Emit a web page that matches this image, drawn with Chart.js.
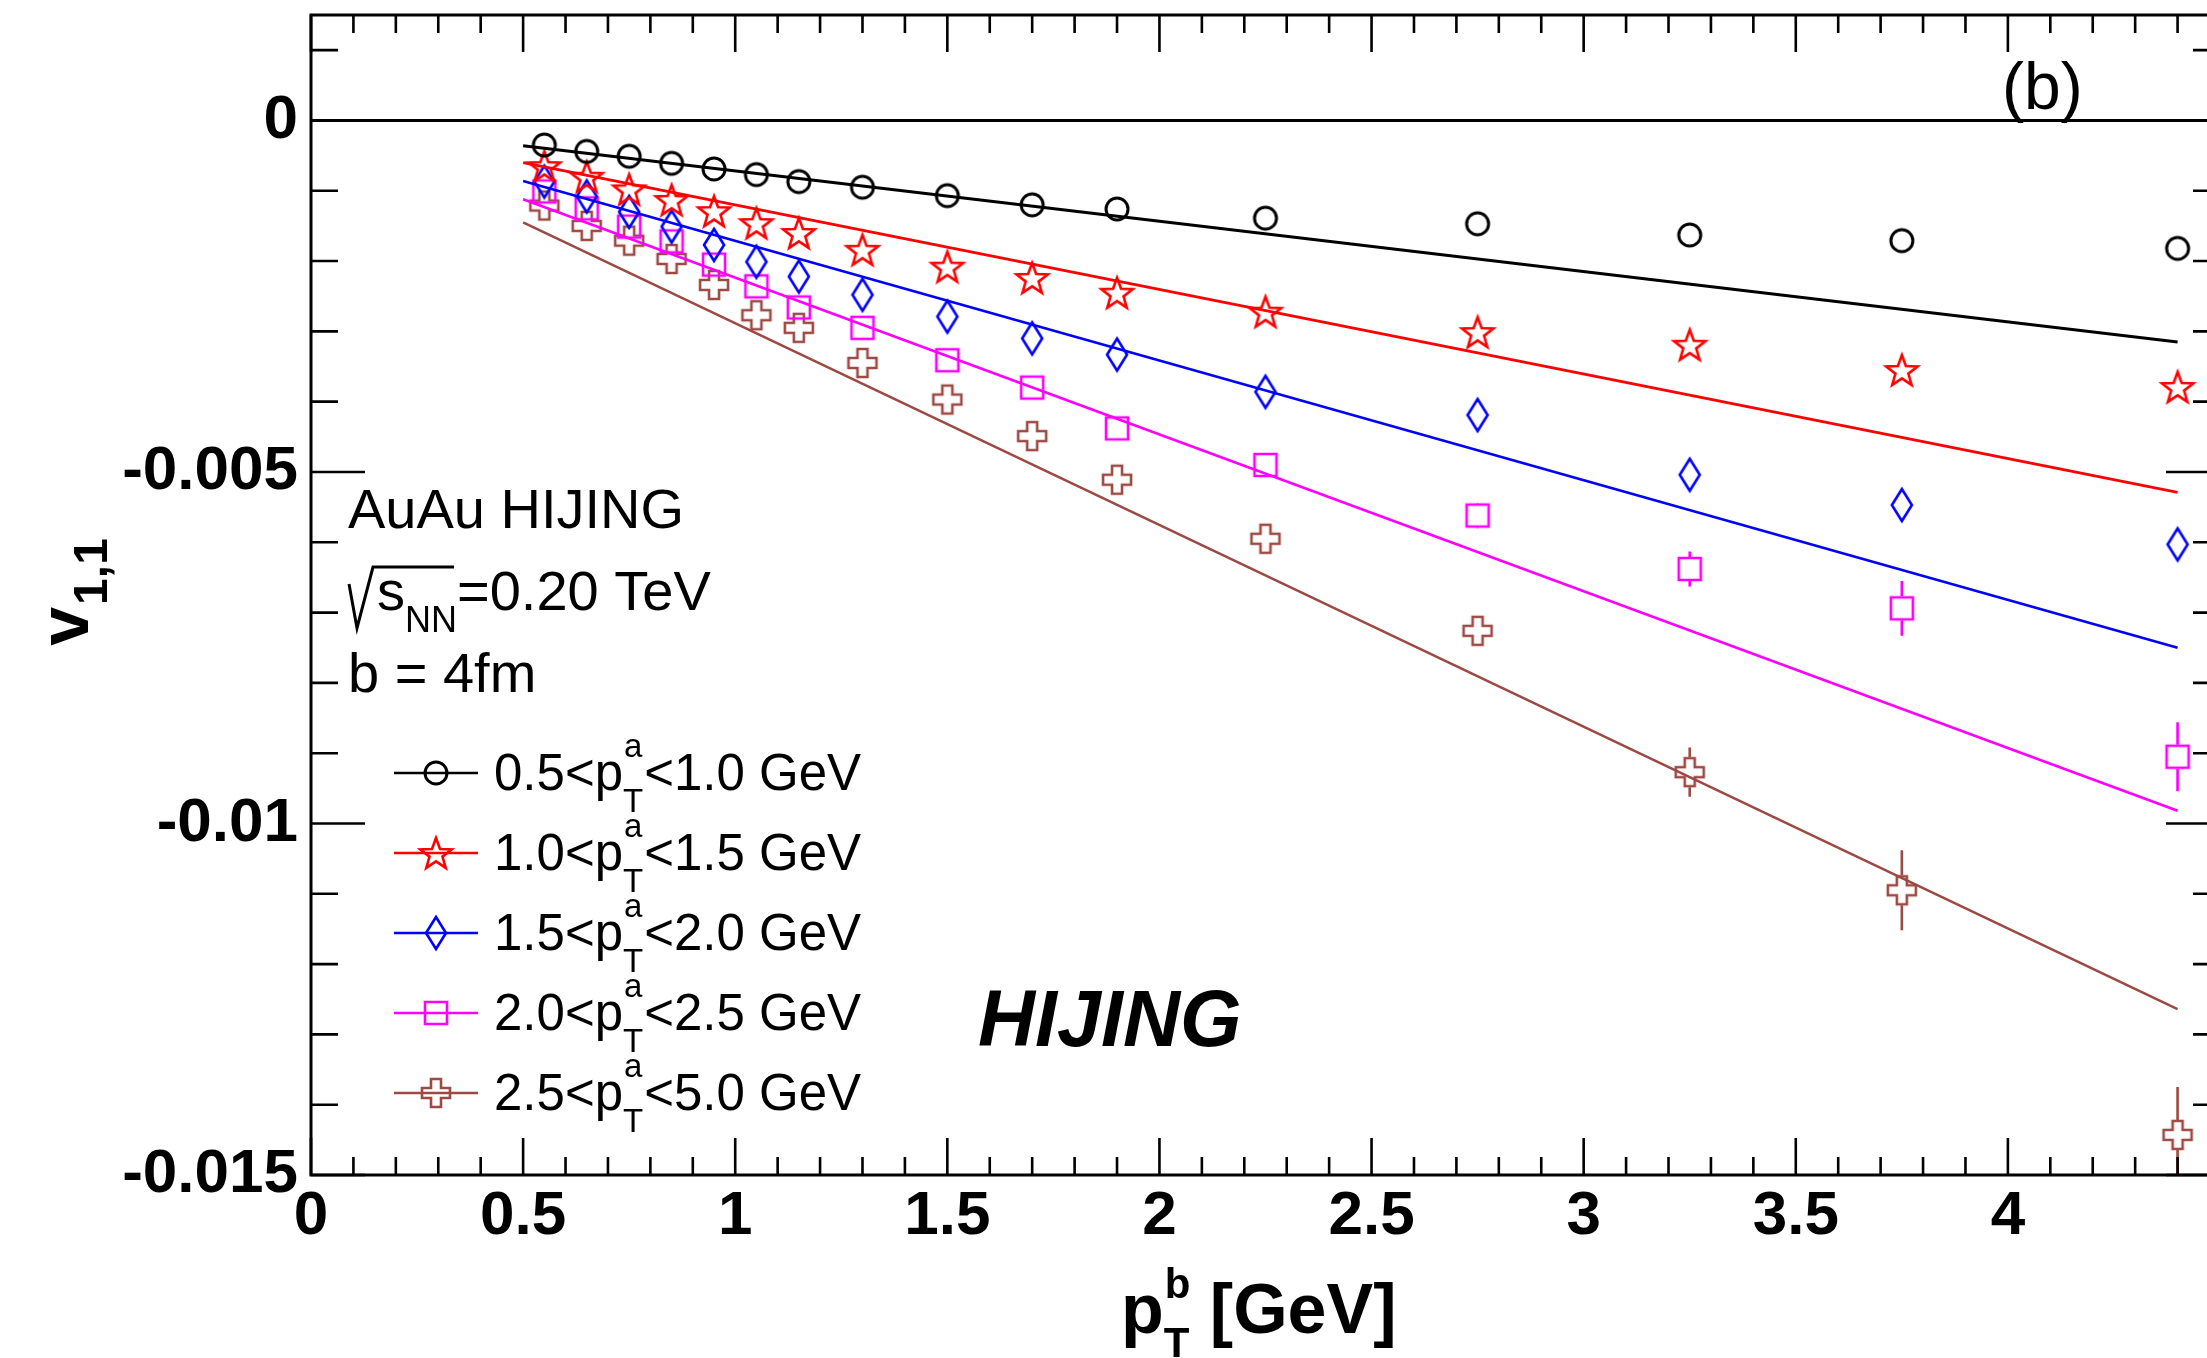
<!DOCTYPE html>
<html>
<head>
<meta charset="utf-8">
<title>v1,1 vs pT (HIJING)</title>
<script src="https://cdn.jsdelivr.net/npm/chart.js@4.4.1/dist/chart.umd.min.js"></script>
<style>
  html, body { margin: 0; padding: 0; background: #fff; overflow: hidden; }
  canvas { display: block; }
</style>
</head>
<body>
<canvas id="v11Chart" width="2240" height="1358"></canvas>
<script>
// pT^b bin centres [GeV]
const ptB = [0.55, 0.65, 0.75, 0.85, 0.95, 1.05, 1.15, 1.3, 1.5, 1.7, 1.9, 2.25, 2.75, 3.25, 3.75, 4.4];

// v1,1 for each pT^a selection
const v11_05_10 = [-0.00035, -0.00044, -0.00051, -0.00061, -0.00069, -0.00077, -0.00087, -0.00095, -0.00107, -0.0012, -0.00126, -0.00139, -0.00147, -0.00163, -0.00171, -0.00182];
const v11_10_15 = [-0.00065, -0.0008, -0.00098, -0.00113, -0.00129, -0.00146, -0.0016, -0.00184, -0.00208, -0.00224, -0.00245, -0.00272, -0.00301, -0.00319, -0.00355, -0.00379];
const v11_15_20 = [-0.00087, -0.00108, -0.0013, -0.00151, -0.00177, -0.00201, -0.00222, -0.00248, -0.00279, -0.0031, -0.00333, -0.00386, -0.00419, -0.00504, -0.00547, -0.00603];
const v11_20_25 = [-0.00101, -0.00125, -0.00151, -0.00172, -0.00205, -0.00236, -0.00266, -0.00295, -0.00341, -0.0038, -0.00438, -0.0049, -0.00562, -0.00638, -0.00694, -0.00905];
const v11_25_50 = [-0.00121, -0.0015, -0.00171, -0.00197, -0.00234, -0.00277, -0.00295, -0.00345, -0.00397, -0.00449, -0.00511, -0.00595, -0.00726, -0.00927, -0.01095, -0.01443];

// statistical errors
const err_05_10 = [0.00002, 0.00002, 0.00002, 0.00002, 0.00002, 0.00002, 0.00002, 0.00003, 0.00003, 0.00003, 0.00004, 0.00004, 0.00005, 0.00006, 0.00008, 0.0001];
const err_10_15 = [0.00003, 0.00003, 0.00003, 0.00003, 0.00003, 0.00004, 0.00004, 0.00004, 0.00005, 0.00005, 0.00006, 0.00007, 0.00008, 0.0001, 0.00013, 0.00016];
const err_15_20 = [0.00004, 0.00004, 0.00004, 0.00004, 0.00005, 0.00005, 0.00005, 0.00006, 0.00006, 0.00007, 0.00008, 0.0001, 0.00012, 0.00015, 0.0002, 0.00024];
const err_20_25 = [0.00005, 0.00005, 0.00005, 0.00006, 0.00006, 0.00007, 0.00007, 0.00008, 0.00009, 0.0001, 0.00012, 0.00014, 0.00018, 0.00025, 0.00039, 0.00049];
const err_25_50 = [0.00006, 0.00006, 0.00007, 0.00007, 0.00008, 0.00009, 0.0001, 0.00011, 0.00012, 0.00014, 0.00016, 0.00019, 0.0002, 0.00035, 0.00057, 0.00068];

// linear fits, value at both ends of the fit range
const fitRange = [0.5, 4.4];
const fit_05_10 = [-0.00036, -0.00315];
const fit_10_15 = [-0.0006, -0.00529];
const fit_15_20 = [-0.00086, -0.0075];
const fit_20_25 = [-0.00112, -0.00982];
const fit_25_50 = [-0.00145, -0.01264];

// pT^a bin edges for the legend
const binLow = ["0.5", "1.0", "1.5", "2.0", "2.5"];
const binHigh = ["1.0", "1.5", "2.0", "2.5", "5.0"];

// axis ticks
const xTickValues = [0, 0.5, 1, 1.5, 2, 2.5, 3, 3.5, 4];
const xTickLabels = ["0", "0.5", "1", "1.5", "2", "2.5", "3", "3.5", "4"];
const yTickValues = [-0.015, -0.01, -0.005, 0];
const yTickLabels = ["-0.015", "-0.01", "-0.005", "0"];

const FONT = "'Liberation Sans', Arial, Helvetica, sans-serif";
const BROWN = "#9c4a44";

// open ROOT-like markers drawn on small canvases
const makeMarker = (shape, color) => {
  const c = document.createElement("canvas");
  c.width = 40;
  c.height = 40;
  const g = c.getContext("2d");
  g.strokeStyle = color;
  g.lineWidth = shape === "circle" ? 3 : 2.6;
  g.lineJoin = "miter";
  g.translate(20, 20);
  g.beginPath();
  if (shape === "circle") {
    g.arc(0, 0, 11, 0, Math.PI * 2);
  } else if (shape === "star") {
    for (let k = 0; k < 10; k++) {
      const r = k % 2 ? 6.8 : 16.5;
      const a = -Math.PI / 2 + (k * Math.PI) / 5;
      g.lineTo(r * Math.cos(a), r * Math.sin(a) + 1.5);
    }
    g.closePath();
  } else if (shape === "diamond") {
    g.moveTo(0, -16);
    g.lineTo(10, 0);
    g.lineTo(0, 16);
    g.lineTo(-10, 0);
    g.closePath();
  } else if (shape === "square") {
    g.rect(-11, -11, 22, 22);
  } else if (shape === "cross") {
    const a = 14, b = 5;
    const pts = [[-b, -a], [b, -a], [b, -b], [a, -b], [a, b], [b, b], [b, a], [-b, a], [-b, b], [-a, b], [-a, -b], [-b, -b]];
    pts.forEach((p, i) => (i ? g.lineTo(p[0], p[1]) : g.moveTo(p[0], p[1])));
    g.closePath();
  }
  g.stroke();
  return c;
};

const series = [
  { values: v11_05_10, errors: err_05_10, fit: fit_05_10, color: "#000000", shape: "circle", half: 12 },
  { values: v11_10_15, errors: err_10_15, fit: fit_10_15, color: "#ff0000", shape: "star", half: 16 },
  { values: v11_15_20, errors: err_15_20, fit: fit_15_20, color: "#0000ff", shape: "diamond", half: 17 },
  { values: v11_20_25, errors: err_20_25, fit: fit_20_25, color: "#ff00ff", shape: "square", half: 12 },
  { values: v11_25_50, errors: err_25_50, fit: fit_25_50, color: BROWN, shape: "cross", half: 15 },
];

const datasets = [];
series.forEach((s, i) => {
  s.marker = makeMarker(s.shape, s.color);
  datasets.push({
    label: binLow[i] + "-" + binHigh[i] + " fit",
    data: fitRange.map((x, k) => ({ x: x, y: s.fit[k] })),
    showLine: true,
    borderColor: s.color,
    borderWidth: i === 0 ? 3 : 2.6,
    pointRadius: 0,
    fill: false,
  });
});
series.forEach((s, i) => {
  datasets.push({
    label: binLow[i] + "<pTa<" + binHigh[i] + " GeV",
    data: ptB.map((x, k) => ({ x: x, y: s.values[k] })),
    yErr: s.errors,
    markerHalf: s.half,
    errColor: s.color,
    pointStyle: s.marker,
    pointRadius: 12,
    showLine: false,
  });
});

// draws "base" followed by a stacked superscript / subscript, returns the new x
const scripted = (ctx, x, y, base, sup, sub, size, subSize, weight, supDy, subDy) => {
  ctx.font = weight + " " + size + "px " + FONT;
  ctx.fillText(base, x, y);
  x += ctx.measureText(base).width;
  ctx.font = weight + " " + subSize + "px " + FONT;
  ctx.fillText(sup, x + 1, y + supDy);
  ctx.fillText(sub, x, y + subDy);
  return x + Math.max(ctx.measureText(sup).width, ctx.measureText(sub).width) + 1;
};

const rootFrame = {
  id: "rootFrame",
  beforeDatasetsDraw(chart) {
    const { ctx, chartArea: a, scales } = chart;
    const y0 = scales.y.getPixelForValue(0);
    ctx.save();
    ctx.strokeStyle = "#000";
    ctx.lineWidth = 3;
    ctx.beginPath();
    ctx.moveTo(a.left, y0);
    ctx.lineTo(a.right, y0);
    ctx.stroke();
    ctx.restore();
  },
  afterDatasetsDraw(chart) {
    const { ctx, chartArea: a, scales } = chart;
    // error bars, drawn outside the open markers
    ctx.save();
    ctx.beginPath();
    ctx.rect(a.left, a.top, a.right - a.left, a.bottom - a.top);
    ctx.clip();
    chart.data.datasets.forEach((ds, i) => {
      if (!ds.yErr) return;
      const meta = chart.getDatasetMeta(i);
      ctx.strokeStyle = ds.errColor;
      ctx.lineWidth = 2.6;
      meta.data.forEach((pt, k) => {
        const v = ds.data[k].y;
        const top = scales.y.getPixelForValue(v + ds.yErr[k]);
        const bot = scales.y.getPixelForValue(v - ds.yErr[k]);
        const h = ds.markerHalf;
        ctx.beginPath();
        if (pt.y - top > h) {
          ctx.moveTo(pt.x, pt.y - h);
          ctx.lineTo(pt.x, top);
        }
        if (bot - pt.y > h) {
          ctx.moveTo(pt.x, pt.y + h);
          ctx.lineTo(pt.x, bot);
        }
        ctx.stroke();
      });
    });
    ctx.restore();
  },
  afterDraw(chart) {
    const { ctx, chartArea: a, scales } = chart;
    ctx.save();
    ctx.strokeStyle = "#000";
    ctx.lineWidth = 3;
    ctx.strokeRect(a.left, a.top, a.right - a.left, a.bottom - a.top);

    // tick marks on all four sides, pointing inwards
    ctx.lineWidth = 2.6;
    ctx.beginPath();
    for (let k = 0; k <= 45; k++) {
      const px = scales.x.getPixelForValue(k / 10);
      const len = k % 5 === 0 ? 37 : 18;
      ctx.moveTo(px, a.bottom);
      ctx.lineTo(px, a.bottom - len);
      ctx.moveTo(px, a.top);
      ctx.lineTo(px, a.top + len);
    }
    for (let k = -15; k <= 1; k++) {
      const py = scales.y.getPixelForValue(k / 1000);
      const len = k % 5 === 0 ? 54 : 27;
      ctx.moveTo(a.left, py);
      ctx.lineTo(a.left + len, py);
      ctx.moveTo(a.right, py);
      ctx.lineTo(a.right - len, py);
    }
    ctx.stroke();

    ctx.fillStyle = "#000";
    ctx.textBaseline = "alphabetic";
    ctx.textAlign = "left";

    // axis titles
    let x = scripted(ctx, 1121, 1333, "p", "b", "T", 70, 42, "bold", -35, 24);
    ctx.font = "bold 70px " + FONT;
    ctx.fillText(" [GeV]", x, 1333);

    ctx.save();
    ctx.translate(88, 593);
    ctx.rotate(-Math.PI / 2);
    ctx.font = "bold 70px " + FONT;
    const wv = ctx.measureText("v").width;
    ctx.font = "bold 48px " + FONT;
    const ws = ctx.measureText("1,1").width;
    const start = -(wv + ws) / 2;
    ctx.font = "bold 70px " + FONT;
    ctx.fillText("v", start, 0);
    ctx.font = "bold 48px " + FONT;
    ctx.fillText("1,1", start + wv + 2, 19);
    ctx.restore();

    // panel label and captions
    ctx.font = "66px " + FONT;
    ctx.fillText("(b)", 2002, 109);

    ctx.font = "56px " + FONT;
    ctx.fillText("AuAu HIJING", 348, 528);

    ctx.lineWidth = 3;
    ctx.beginPath();
    ctx.moveTo(349, 584);
    ctx.lineTo(357, 628);
    ctx.lineTo(373, 567);
    ctx.lineTo(454, 567);
    ctx.stroke();
    x = 377;
    ctx.font = "56px " + FONT;
    ctx.fillText("s", x, 610);
    x += ctx.measureText("s").width;
    ctx.font = "36px " + FONT;
    ctx.fillText("NN", x, 632);
    x += ctx.measureText("NN").width;
    ctx.font = "56px " + FONT;
    ctx.fillText("=0.20 TeV", x, 610);

    ctx.fillText("b = 4fm", 348, 692);

    ctx.font = "italic bold 79px " + FONT;
    ctx.fillText("HIJING", 978, 1046);

    // legend
    series.forEach((s, i) => {
      const cy = 773 + i * 80;
      ctx.strokeStyle = s.color;
      ctx.lineWidth = 2.6;
      ctx.beginPath();
      ctx.moveTo(394, cy);
      ctx.lineTo(478, cy);
      ctx.stroke();
      ctx.drawImage(s.marker, 436 - 20, cy - 20);
      ctx.fillStyle = "#000";
      const tx = scripted(ctx, 494, cy + 17, binLow[i] + "<p", "a", "T", 51, 33, "normal", -33, 22);
      ctx.font = "51px " + FONT;
      ctx.fillText("<" + binHigh[i] + " GeV", tx, cy + 17);
    });
    ctx.restore();
  },
};

Chart.defaults.font.family = FONT;
Chart.defaults.color = "#000";

new Chart(document.getElementById("v11Chart"), {
  type: "scatter",
  data: { datasets: datasets },
  options: {
    responsive: false,
    animation: false,
    events: [],
    layout: { padding: { top: 15, right: 20, left: 0, bottom: 0 } },
    plugins: {
      legend: { display: false },
      tooltip: { enabled: false },
    },
    scales: {
      x: {
        type: "linear",
        min: 0,
        max: 4.5,
        grid: { display: false },
        border: { display: false },
        afterBuildTicks: (scale) => {
          scale.ticks = xTickValues.map((v) => ({ value: v }));
        },
        afterFit: (scale) => {
          scale.height = 183;
          scale.paddingLeft = 0;
          scale.paddingRight = 0;
        },
        ticks: {
          autoSkip: false,
          maxRotation: 0,
          padding: -3,
          font: { size: 62, weight: "bold" },
          callback: (value, index) => xTickLabels[index],
        },
      },
      y: {
        type: "linear",
        min: -0.015,
        max: 0.0015,
        grid: { display: false },
        border: { display: false },
        afterBuildTicks: (scale) => {
          scale.ticks = yTickValues.map((v) => ({ value: v }));
        },
        afterFit: (scale) => {
          scale.width = 311;
          scale.paddingTop = 0;
          scale.paddingBottom = 0;
        },
        ticks: {
          autoSkip: false,
          padding: 5,
          font: { size: 62, weight: "bold" },
          callback: (value, index) => yTickLabels[index],
        },
      },
    },
  },
  plugins: [rootFrame],
});
</script>
</body>
</html>
